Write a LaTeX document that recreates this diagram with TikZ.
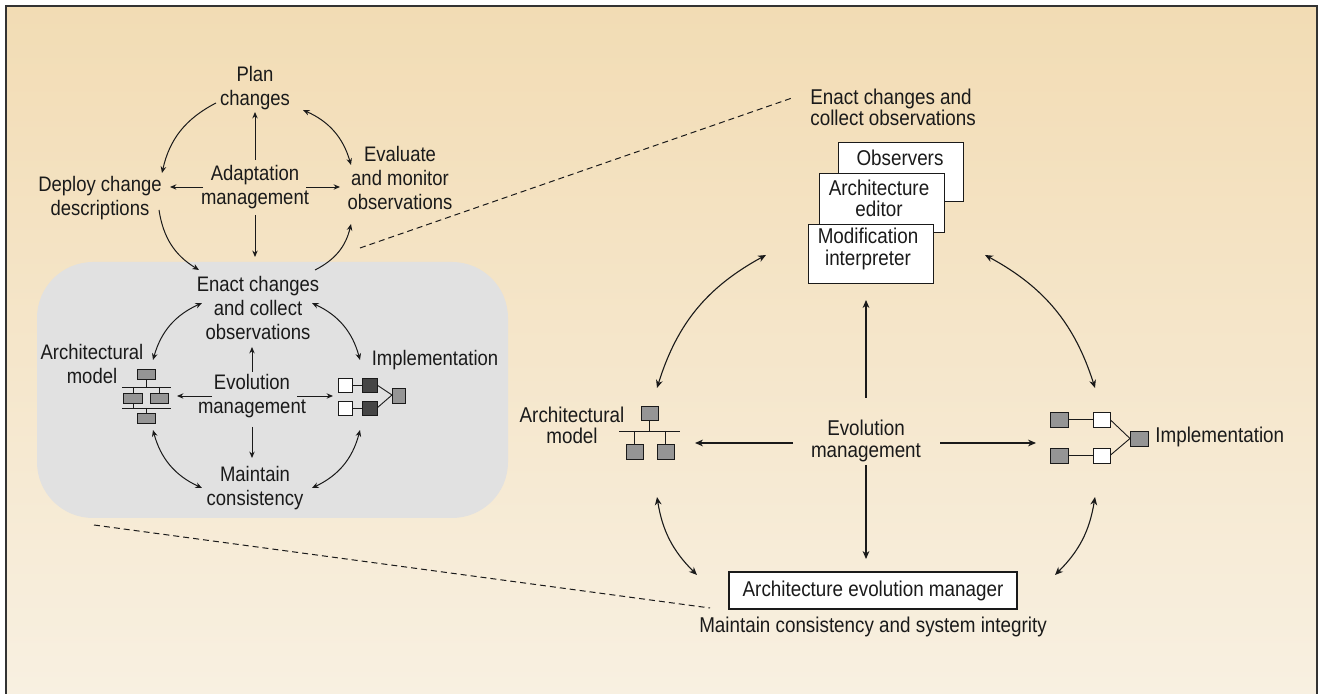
\documentclass[tikz,border=0pt]{standalone}
\usepackage{fontspec}
\setmainfont{Liberation Sans}[FakeStretch=0.88]
\usetikzlibrary{arrows.meta,shapes.geometric}
\definecolor{bgtop}{HTML}{F2DCB4}
\definecolor{bgbot}{HTML}{F8F0E1}
\definecolor{panel}{HTML}{E1E1E1}
\definecolor{frame}{HTML}{333333}
\definecolor{ink}{HTML}{1A1A1A}
\definecolor{midgray}{HTML}{959595}
\definecolor{darkbox}{HTML}{454545}
\begin{document}
\begin{tikzpicture}[x=0.5pt,y=-0.5pt,
  txt/.style={inner sep=0pt,align=center,text=ink,font=\fontsize{10.5}{12}\selectfont},
  txtR/.style={inner sep=0pt,align=center,text=ink,font=\fontsize{10.7}{10.6}\selectfont},
  conn/.style={draw=ink,line width=0.45pt,-{Stealth[length=3.2pt,width=2.7pt]}},
  cconn/.style={draw=ink,line width=0.5pt,-{Stealth[length=3.3pt,width=2.8pt]}},
  dconn/.style={draw=ink,line width=0.5pt,{Stealth[length=3.3pt,width=2.8pt]}-{Stealth[length=3.3pt,width=2.8pt]}},
  connR/.style={draw=ink,line width=0.55pt,-{Stealth[length=4pt,width=3.4pt]}},
  dconnR/.style={draw=ink,line width=0.55pt,{Stealth[length=4pt,width=3.4pt]}-{Stealth[length=4pt,width=3.4pt]}},
  wbox/.style={draw=ink,fill=white,line width=0.65pt,inner sep=0pt,anchor=north west},
  gsq/.style={draw=ink,fill=midgray,line width=0.45pt},
  dsq/.style={draw=ink,fill=darkbox,line width=0.45pt},
  wsq/.style={draw=ink,fill=white,line width=0.45pt},
  wire/.style={draw=ink,line width=0.45pt},
  zoomline/.style={draw=ink,line width=0.5pt,dash pattern=on 3pt off 2pt}
]
\useasboundingbox (0,0) rectangle (1319,694);
% background and frame
\shade[top color=bgtop,bottom color=bgbot] (6,6) rectangle (1317,694);
\draw[frame,line width=0.8pt] (6,694) -- (6,6) -- (1317,6) -- (1317,694);
% grey panel
\fill[panel,rounded corners=28pt] (37,262) rectangle (508,518);

% dashed zoom lines
\coordinate (dz1) at (360,248); \coordinate (dz2) at (792,98);
\coordinate (dz3) at (94,525); \coordinate (dz4) at (710,608);
\draw[zoomline] (dz1) -- (dz2);
\draw[zoomline] (dz3) -- (dz4);

% ---------- left: adaptation cycle ----------
\node[txt] (plan) at (255,88) {Plan\\changes};
\node[txt] (adapt) at (255,187) {Adaptation\\management};
\node[txt] (deploy) at (100,198) {Deploy change\\descriptions};
\node[txt] (evalu) at (400,178) {Evaluate\\and monitor\\observations};
\node[txt] (enactL) at (258,308) {Enact changes\\and collect\\observations};

\coordinate (a1) at (255,160); \coordinate (a1e) at (255,112);
\coordinate (a2) at (203,187); \coordinate (a2e) at (170,187);
\coordinate (a3) at (306,187); \coordinate (a3e) at (340,187);
\coordinate (a4) at (255,215); \coordinate (a4e) at (255,257);
\draw[conn] (a1) -- (a1e);
\draw[conn] (a2) -- (a2e);
\draw[conn] (a3) -- (a3e);
\draw[conn] (a4) -- (a4e);

\coordinate (c1s) at (216,103); \coordinate (c1e) at (162,173);
\coordinate (c2s) at (303,110); \coordinate (c2e) at (351,165);
\coordinate (c3s) at (159,210); \coordinate (c3e) at (199,270);
\coordinate (c4s) at (315,270); \coordinate (c4e) at (351,224);
\draw[cconn] (c1s) to[bend right=25] (c1e);
\draw[dconn] (c2s) to[bend left=25] (c2e);
\draw[cconn] (c3s) to[bend right=25] (c3e);
\draw[cconn] (c4s) to[bend right=25] (c4e);

% ---------- left: evolution cycle ----------
\node[txt] (archL) at (92,364) {Architectural\\model};
\node[txt] (evoL) at (252,396) {Evolution\\management};
\node[txt] (implL) at (435,360) {Implementation};
\node[txt] (maintL) at (255,488) {Maintain\\consistency};

% arch icon (left)
\draw[wire] (146,379) -- (146,387);
\draw[wire] (122,387) -- (171,387);
\draw[wire] (133,387) -- (133,393);
\draw[wire] (159,387) -- (159,393);
\draw[wire] (122,408) -- (171,408);
\draw[wire] (133,403) -- (133,408);
\draw[wire] (146,408) -- (146,413);
\filldraw[gsq] (137,369) rectangle (155,379);
\filldraw[gsq] (123,393) rectangle (142,403);
\filldraw[gsq] (150,393) rectangle (168,403);
\filldraw[gsq] (137,413) rectangle (155,423);

% implementation icon (left)
\draw[wire] (352,385) -- (362,385);
\draw[wire] (352,408) -- (362,408);
\draw[wire] (377,385) -- (392,395);
\draw[wire] (377,408) -- (392,395);
\filldraw[wsq] (338,378) rectangle (352,392);
\filldraw[wsq] (338,401) rectangle (352,415);
\filldraw[dsq] (362,378) rectangle (377,392);
\filldraw[dsq] (362,401) rectangle (377,415);
\filldraw[gsq] (392,388) rectangle (405,403);

\coordinate (e1) at (252,372); \coordinate (e1e) at (252,347);
\coordinate (e2) at (252,427); \coordinate (e2e) at (252,458);
\coordinate (e3) at (212,396); \coordinate (e3e) at (177,396);
\coordinate (e4) at (297,396); \coordinate (e4e) at (333,396);
\draw[conn] (e1) -- (e1e);
\draw[conn] (e2) -- (e2e);
\draw[conn] (e3) -- (e3e);
\draw[conn] (e4) -- (e4e);

\coordinate (d1s) at (202,303); \coordinate (d1e) at (153,360);
\coordinate (d2s) at (312,303); \coordinate (d2e) at (360,360);
\coordinate (d3s) at (153,430); \coordinate (d3e) at (202,488);
\coordinate (d4s) at (312,488); \coordinate (d4e) at (360,430);
\draw[dconn] (d1s) to[bend right=25] (d1e);
\draw[dconn] (d2s) to[bend left=25] (d2e);
\draw[dconn] (d3s) to[bend right=25] (d3e);
\draw[dconn] (d4s) to[bend right=25] (d4e);

% ---------- right: detail ----------
\node[txtR,align=left,anchor=west] (enactR) at (810,107) {Enact changes and\\collect observations};

\node[wbox,minimum width=62.5pt,minimum height=29.5pt] (obs) at (838,142) {};
\node[txtR] (obst) at (900,158) {Observers};
\node[wbox,minimum width=62.5pt,minimum height=29.5pt] (edit) at (819,173) {};
\node[txtR] (editt) at (879,198) {Architecture\\editor};
\node[wbox,minimum width=62.5pt,minimum height=29.5pt] (modif) at (808,224) {};
\node[txtR] (modift) at (868,249) {Modification\\interpreter};

\node[txtR] (archR) at (572,425) {Architectural\\model};
\node[txtR] (evoR) at (866,441) {Evolution\\management};
\node[txtR,anchor=west] (implR) at (1155,437) {Implementation};

% arch icon (right)
\draw[wire] (649,420) -- (649,431);
\draw[wire] (619,431) -- (680,431);
\draw[wire] (634,431) -- (634,444);
\draw[wire] (665,431) -- (665,444);
\filldraw[gsq] (641,406) rectangle (658,420);
\filldraw[gsq] (626,444) rectangle (643,459);
\filldraw[gsq] (657,444) rectangle (674,459);

% implementation icon (right)
\draw[wire] (1068,419.5) -- (1093,419.5);
\draw[wire] (1068,455.5) -- (1093,455.5);
\draw[wire] (1110,419.5) -- (1130,438.5);
\draw[wire] (1110,455.5) -- (1130,438.5);
\filldraw[gsq] (1050,412) rectangle (1068,427);
\filldraw[gsq] (1050,448) rectangle (1068,463);
\filldraw[wsq] (1093,412) rectangle (1110,427);
\filldraw[wsq] (1093,448) rectangle (1110,463);
\filldraw[gsq] (1130,431) rectangle (1148,446);

\node[draw=ink,fill=white,line width=0.65pt,inner sep=0pt,minimum width=144pt,minimum height=18.5pt,txtR] (aem) at (873,590.5) {Architecture evolution manager};
\node[txtR] (maintR) at (873,627) {Maintain consistency and system integrity};

\coordinate (r1) at (866,398); \coordinate (r1e) at (866,300);
\coordinate (r2) at (793,443); \coordinate (r2e) at (695,443);
\coordinate (r3) at (940,443); \coordinate (r3e) at (1036,443);
\coordinate (r4) at (866,465); \coordinate (r4e) at (866,559);
\draw[connR] (r1) -- (r1e);
\draw[connR] (r2) -- (r2e);
\draw[connR] (r3) -- (r3e);
\draw[connR] (r4) -- (r4e);

\coordinate (q1s) at (766,255); \coordinate (q1e) at (657,388);
\coordinate (q2s) at (985,255); \coordinate (q2e) at (1095,388);
\coordinate (q3s) at (657,497); \coordinate (q3e) at (697,575);
\coordinate (q4s) at (1055,575); \coordinate (q4e) at (1095,497);
\draw[dconnR] (q1s) to[bend right=22] (q1e);
\draw[dconnR] (q2s) to[bend left=22] (q2e);
\draw[dconnR] (q3s) to[bend right=18] (q3e);
\draw[dconnR] (q4s) to[bend right=18] (q4e);
\end{tikzpicture}
\end{document}
